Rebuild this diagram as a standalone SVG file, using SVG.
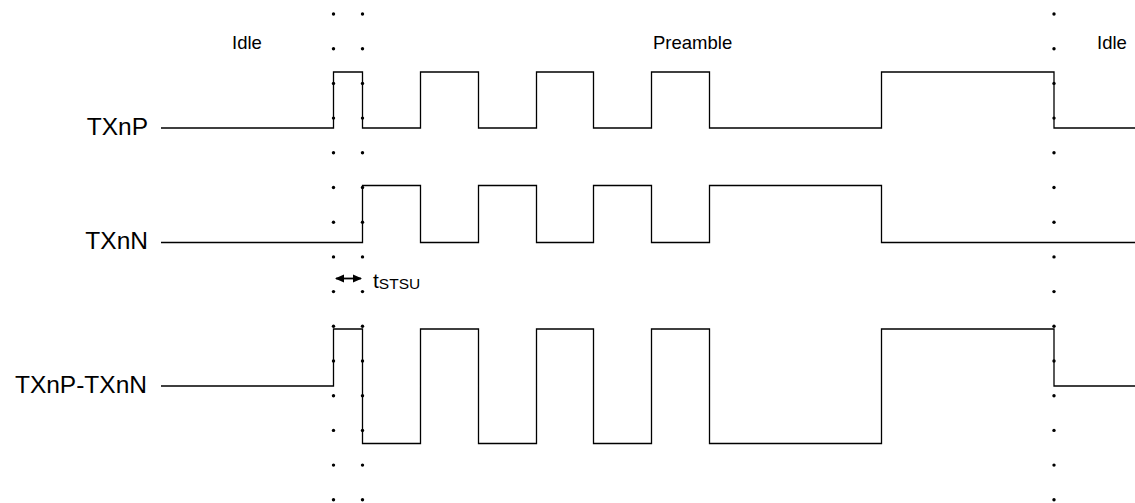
<svg xmlns="http://www.w3.org/2000/svg" width="1135" height="503" viewBox="0 0 1135 503">
<defs>
<style>
.sig{fill:none;stroke:#000;stroke-width:1.3}
.lbl{font-family:"Liberation Sans",Arial,sans-serif;font-size:24.5px;fill:#000}
.sm{font-family:"Liberation Sans",Arial,sans-serif;font-size:18.5px;fill:#000}
.dot{fill:#000}
</style>
<marker id="ah" markerWidth="9" markerHeight="9" refX="8" refY="4.5" orient="auto-start-reverse" markerUnits="userSpaceOnUse">
<path d="M0,0.5 L9,4.5 L0,8.5 Z" fill="#000"/>
</marker>
<g id="dotcol">
<circle class="dot" cx="0" cy="14" r="1.7"/>
<circle class="dot" cx="0" cy="48.7" r="1.7"/>
<circle class="dot" cx="0" cy="83.4" r="1.7"/>
<circle class="dot" cx="0" cy="118.1" r="1.7"/>
<circle class="dot" cx="0" cy="152.8" r="1.7"/>
<circle class="dot" cx="0" cy="187.5" r="1.7"/>
<circle class="dot" cx="0" cy="222.2" r="1.7"/>
<circle class="dot" cx="0" cy="256.9" r="1.7"/>
<circle class="dot" cx="0" cy="291.6" r="1.7"/>
<circle class="dot" cx="0" cy="326.3" r="1.7"/>
<circle class="dot" cx="0" cy="361" r="1.7"/>
<circle class="dot" cx="0" cy="395.7" r="1.7"/>
<circle class="dot" cx="0" cy="430.4" r="1.7"/>
<circle class="dot" cx="0" cy="465.1" r="1.7"/>
<circle class="dot" cx="0" cy="499.8" r="1.7"/>
</g>
</defs>
<rect width="1135" height="503" fill="#fff"/>
<g id="labels">
<text class="sm" x="232" y="49">Idle</text>
<text class="sm" x="653" y="49">Preamble</text>
<text class="sm" x="1097" y="49">Idle</text>
</g>
<g id="txnp">
<text class="lbl" x="148" y="135" text-anchor="end">TXnP</text>
<path class="sig" d="M161,128 H333.5 V72 H362.5 V128 H420.5 V72 H478.5 V128 H536.5 V72 H593.5 V128 H651.5 V72 H709.5 V128 H881.5 V72 H1054 V128 H1135"/>
</g>
<g id="txnn">
<text class="lbl" x="148" y="249" text-anchor="end">TXnN</text>
<path class="sig" d="M161,242.5 H362.5 V185.5 H420.5 V242.5 H478.5 V185.5 H536.5 V242.5 H593.5 V185.5 H651.5 V242.5 H709.5 V185.5 H881.5 V242.5 H1135"/>
</g>
<g id="txdiff">
<text class="lbl" x="147" y="393" text-anchor="end">TXnP-TXnN</text>
<path class="sig" d="M161,386 H333.5 V329 H362.5 V443.5 H420.5 V329 H478.5 V443.5 H536.5 V329 H593.5 V443.5 H651.5 V329 H709.5 V443.5 H881.5 V329 H1054 V386 H1135"/>
</g>
<g id="markers">
<use href="#dotcol" x="333.5"/>
<use href="#dotcol" x="362.5"/>
<use href="#dotcol" x="1054"/>
</g>
<g id="connectors">
<line x1="336" y1="278.5" x2="361" y2="278.5" stroke="#000" stroke-width="1.8" marker-start="url(#ah)" marker-end="url(#ah)"/>
</g>
<g id="tstsu">
<text class="sm" x="373" y="288" style="font-size:21px">t<tspan style="font-size:15.5px" dy="1">STSU</tspan></text>
</g>
</svg>
